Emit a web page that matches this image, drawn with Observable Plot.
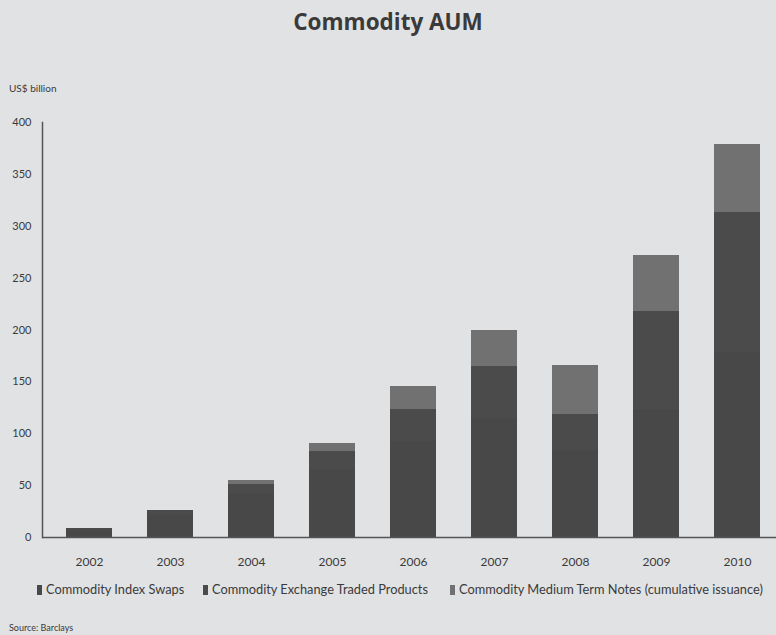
<!DOCTYPE html>
<html>
<head>
<meta charset="utf-8">
<script src="https://cdn.jsdelivr.net/npm/d3@7"></script>
<script src="https://cdn.jsdelivr.net/npm/@observablehq/plot@0.6"></script>
<style>
  html, body { margin: 0; padding: 0; background: #e1e2e4; }
  #wrap { position: relative; width: 776px; height: 635px; overflow: hidden; background: #e1e2e4; font-family: Lato, "Open Sans", sans-serif; color: #3a3a3a; }
  #title { position: absolute; left: 0; top: 6px; width: 776px; text-align: center; font-family: "Open Sans", sans-serif; font-weight: 700; font-size: 22.5px; color: #3a3a3a; }
  #unit { position: absolute; left: 9px; top: 82px; font-size: 10px; color: #3a3a3a; }
  #chart { position: absolute; left: 0; top: 50px; }
  #legend { position: absolute; left: 37px; top: 581px; font-size: 12.8px; white-space: nowrap; }
  #legend span.item { position: absolute; top: 0; }
  #legend i { display: inline-block; width: 5px; height: 10px; margin-right: 4px; vertical-align: -1px; }
  #source { position: absolute; left: 9px; top: 622px; font-size: 9px; color: #3a3a3a; }
</style>
</head>
<body>
<div id="wrap">
  <div id="title">Commodity AUM</div>
  <div id="unit">US$ billion</div>
  <div id="chart"></div>
  <div id="legend"></div>
  <div id="source">Source: Barclays</div>
</div>
<script>
const years = ["2002", "2003", "2004", "2005", "2006", "2007", "2008", "2009", "2010"];
const indexSwaps = [7, 21, 41, 65, 93, 115, 84, 123, 178];
const exchangeTradedProducts = [2, 5, 10, 18, 30, 50, 35, 95, 135];
const mediumTermNotes = [0, 0, 4, 8, 23, 35, 47, 54, 66];
const seriesNames = [
  "Commodity Index Swaps",
  "Commodity Exchange Traded Products",
  "Commodity Medium Term Notes (cumulative issuance)"
];
const seriesColors = ["#484848", "#4b4b4b", "#717171"];
const yTicks = [0, 50, 100, 150, 200, 250, 300, 350, 400];

const seriesValues = [indexSwaps, exchangeTradedProducts, mediumTermNotes];
const rows = years.flatMap((year, i) =>
  seriesNames.map((s, k) => ({ year, series: s, value: seriesValues[k][i] }))
);

const chart = Plot.plot({
  width: 776,
  height: 520,
  marginTop: 72,
  marginBottom: 33,
  marginLeft: 42,
  marginRight: 0,
  style: { background: "transparent", fontFamily: "Lato, 'Open Sans', sans-serif", color: "#3a3a3a", overflow: "visible" },
  x: { domain: years, range: [42, 785], paddingInner: 0.43, paddingOuter: 0.27, label: null },
  y: { domain: [0, 400], label: null },
  color: { domain: seriesNames, range: seriesColors },
  marks: [
    Plot.barY(rows, { x: "year", y: "value", fill: "series", order: null, shapeRendering: "crispEdges" }),
    Plot.axisX({ tickSize: 0, tickPadding: 20, fontSize: 12, label: null }),
    Plot.axisY({ ticks: yTicks, tickSize: 0, tickPadding: 11, fontSize: 11, label: null }),
    Plot.ruleY([0], { stroke: "#555", strokeWidth: 1.5 }),
    Plot.frame({ anchor: "left", stroke: "#555", strokeWidth: 1.5 })
  ]
});
document.getElementById("chart").appendChild(chart);

const legend = document.getElementById("legend");
const legendOffsets = [0, 166, 413];
seriesNames.forEach((name, k) => {
  const item = document.createElement("span");
  item.className = "item";
  item.style.left = legendOffsets[k] + "px";
  item.innerHTML = `<i style="background:${seriesColors[k]}"></i>${name}`;
  legend.appendChild(item);
});
</script>
</body>
</html>
